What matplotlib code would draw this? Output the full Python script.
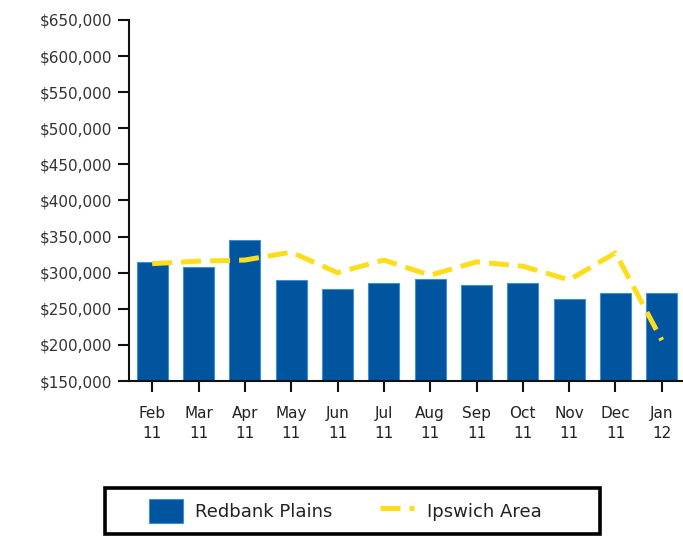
import numpy as np
import matplotlib.pyplot as plt
from matplotlib.patches import Rectangle
from matplotlib.ticker import FuncFormatter

# data
months = ['Feb\n11', 'Mar\n11', 'Apr\n11', 'May\n11', 'Jun\n11', 'Jul\n11',
          'Aug\n11', 'Sep\n11', 'Oct\n11', 'Nov\n11', 'Dec\n11', 'Jan\n12']
redbank = [315000, 307500, 345000, 290500, 277000, 285500,
           291000, 283000, 285500, 263000, 272000, 272000]
ipswich = [312500, 316000, 317500, 328500, 300000, 317500,
           296500, 315000, 309000, 290000, 327500, 206500]

bar_color = '#00559e'
line_color = '#fddd1c'
text_color = '#333333'

fig = plt.figure(figsize=(6.83, 5.36), dpi=100)
ax = fig.add_axes([129 / 683, 1 - 381 / 536, 556 / 683, 361 / 536])

x = np.arange(len(months))
bars = ax.bar(x, redbank, width=0.67, color=bar_color, edgecolor='#3d8fd6',
              linewidth=0.8, label='Redbank Plains', zorder=2)
line, = ax.plot(x, ipswich, color=line_color, linewidth=3.6, dashes=(4, 1.8),
                label='Ipswich Area', zorder=3)

ax.set_xlim(-0.5, len(months) - 0.5)
ax.set_ylim(150000, 650000)
ax.set_yticks(np.arange(150000, 650001, 50000))
ax.yaxis.set_major_formatter(FuncFormatter(lambda v, p: '${:,.0f}'.format(v)))
ax.set_xticks(x)
ax.set_xticklabels(months, linespacing=1.45)

for s in ['top', 'right']:
    ax.spines[s].set_visible(False)
for s in ['left', 'bottom']:
    ax.spines[s].set_linewidth(1.5)
    ax.spines[s].set_color('#111111')
ax.tick_params(axis='both', length=8, width=1.5, color='#111111',
               labelsize=11, labelcolor=text_color, pad=4)
ax.tick_params(axis='x', pad=10, labelcolor='#222222')

# legend box drawn as its own frame
fig.patches.append(Rectangle((104.5 / 683, 1 - 534 / 536), 495 / 683, 46 / 536,
                             transform=fig.transFigure, fill=False,
                             edgecolor='black', linewidth=2.6))
leg = fig.legend(handles=[bars, line], labels=['Redbank Plains', 'Ipswich Area'],
                 loc='center', bbox_to_anchor=(345 / 683, 1 - 511 / 536),
                 ncol=2, fontsize=13, frameon=False,
                 handlelength=1.9, handleheight=1.7, columnspacing=2.6,
                 borderpad=0.3, handletextpad=0.7, labelcolor='#222222')

fig.savefig('out.png', dpi=100)
